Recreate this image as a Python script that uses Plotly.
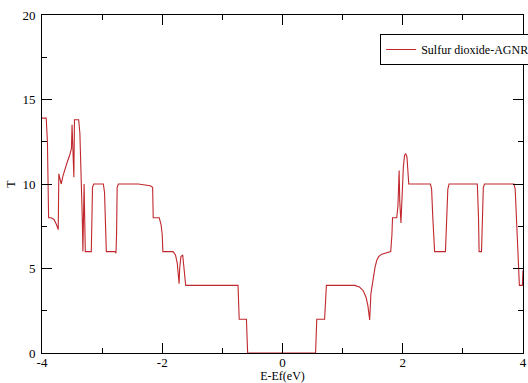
import plotly.graph_objects as go

energy = [-4.00, -3.93, -3.91, -3.89, -3.85, -3.80, -3.76, -3.73, -3.72, -3.70, -3.68, -3.65,
          -3.62, -3.58, -3.54, -3.51, -3.50, -3.49, -3.47, -3.46, -3.39, -3.37, -3.36, -3.34,
          -3.33, -3.32, -3.31, -3.30, -3.29, -3.28, -3.18, -3.17, -3.16, -3.14, -2.98, -2.96,
          -2.94, -2.93, -2.78, -2.77, -2.76, -2.75, -2.73, -2.40, -2.20, -2.16, -2.15, -2.05,
          -2.02, -2.00, -1.99, -1.82, -1.78, -1.75, -1.73, -1.72, -1.71, -1.69, -1.66, -1.64,
          -1.61, -1.60, -0.74, -0.73, -0.72, -0.60, -0.59, -0.58, 0.55, 0.56, 0.57, 0.70,
          0.71, 0.73, 1.20, 1.28, 1.34, 1.39, 1.42, 1.44, 1.45, 1.47, 1.49, 1.51,
          1.54, 1.57, 1.60, 1.65, 1.75, 1.80, 1.82, 1.83, 1.90, 1.92, 1.94, 1.95,
          1.97, 1.99, 2.01, 2.03, 2.05, 2.07, 2.09, 2.10, 2.46, 2.48, 2.50, 2.53,
          2.71, 2.73, 2.75, 2.77, 3.24, 3.26, 3.27, 3.31, 3.33, 3.34, 3.36, 3.85,
          3.87, 3.89, 3.92, 3.94, 3.99, 4.00]
transmission = [13.9, 13.9, 12.5, 8.0, 8.0, 7.9, 7.6, 7.3, 10.6, 10.3, 10.0, 10.5,
                10.9, 11.3, 11.7, 12.1, 13.5, 12.0, 10.4, 13.8, 13.8, 13.0, 12.0, 10.0,
                8.0, 6.0, 8.0, 10.0, 8.0, 6.0, 6.0, 8.0, 9.8, 10.0, 10.0, 9.5,
                7.0, 6.0, 6.0, 5.9, 7.0, 9.8, 10.0, 10.0, 9.9, 9.8, 8.0, 8.0,
                7.6, 7.0, 6.0, 6.0, 5.8, 5.3, 4.5, 4.1, 5.0, 5.7, 5.8, 5.0,
                4.0, 4.0, 4.0, 3.0, 2.0, 2.0, 1.0, 0.0, 0.0, 1.0, 2.0, 2.0,
                3.0, 4.0, 4.0, 3.9, 3.7, 3.3, 2.8, 2.3, 1.95, 3.5, 4.0, 4.3,
                5.1, 5.5, 5.7, 5.85, 5.95, 6.0, 7.0, 8.0, 8.0, 8.7, 10.8, 9.0,
                7.7, 9.5, 11.0, 11.7, 11.8, 11.6, 10.5, 10.0, 10.0, 9.7, 8.0, 6.0,
                6.0, 8.0, 9.7, 10.0, 10.0, 8.0, 6.0, 6.0, 8.0, 9.8, 10.0, 10.0,
                9.7, 8.0, 6.0, 4.0, 4.0, 4.9]

series_name = "Sulfur dioxide-AGNR"
x_ticks = [-4, -2, 0, 2, 4]
y_ticks = [0, 5, 10, 15, 20]

font_family = "Liberation Serif"

fig = go.Figure()
fig.add_trace(go.Scatter(
    x=energy, y=transmission, mode="lines", name=series_name,
    line=dict(color="#c0282d", width=1.1),
))

axis_common = dict(
    showline=True, linecolor="black", linewidth=1, mirror="ticks",
    ticks="inside", ticklen=10, tickwidth=1, tickcolor="black",
    showgrid=False, zeroline=False,
    tickfont=dict(family=font_family, size=13, color="black"),
)

fig.update_xaxes(
    range=[-4, 4], tickvals=x_ticks, ticktext=[str(v) for v in x_ticks],
    minor=dict(ticks="inside", ticklen=5, dtick=1, tick0=-4, tickcolor="black", showgrid=False),
    title=dict(text="E-Ef(eV)", font=dict(family=font_family, size=12, color="black"), standoff=0),
    ticklabelstandoff=-3,
    **axis_common,
)
fig.update_yaxes(
    range=[0, 20], tickvals=y_ticks, ticktext=[str(v) for v in y_ticks],
    minor=dict(ticks="inside", ticklen=5, dtick=2.5, tick0=0, tickcolor="black", showgrid=False),
    title=dict(text="T", font=dict(family=font_family, size=12, color="black"), standoff=4),
    ticklabelstandoff=3,
    **axis_common,
)

fig.update_layout(
    width=528, height=383,
    margin=dict(l=42, r=5, t=15, b=30, autoexpand=False),
    paper_bgcolor="white", plot_bgcolor="white",
    font=dict(family=font_family),
    showlegend=True,
    legend=dict(
        x=0.703, y=0.944, xanchor="left", yanchor="top",
        bgcolor="white", bordercolor="black", borderwidth=1,
        font=dict(family=font_family, size=12, color="black"),
        itemwidth=30, tracegroupgap=0,
    ),
)

fig.write_html("out.html")
